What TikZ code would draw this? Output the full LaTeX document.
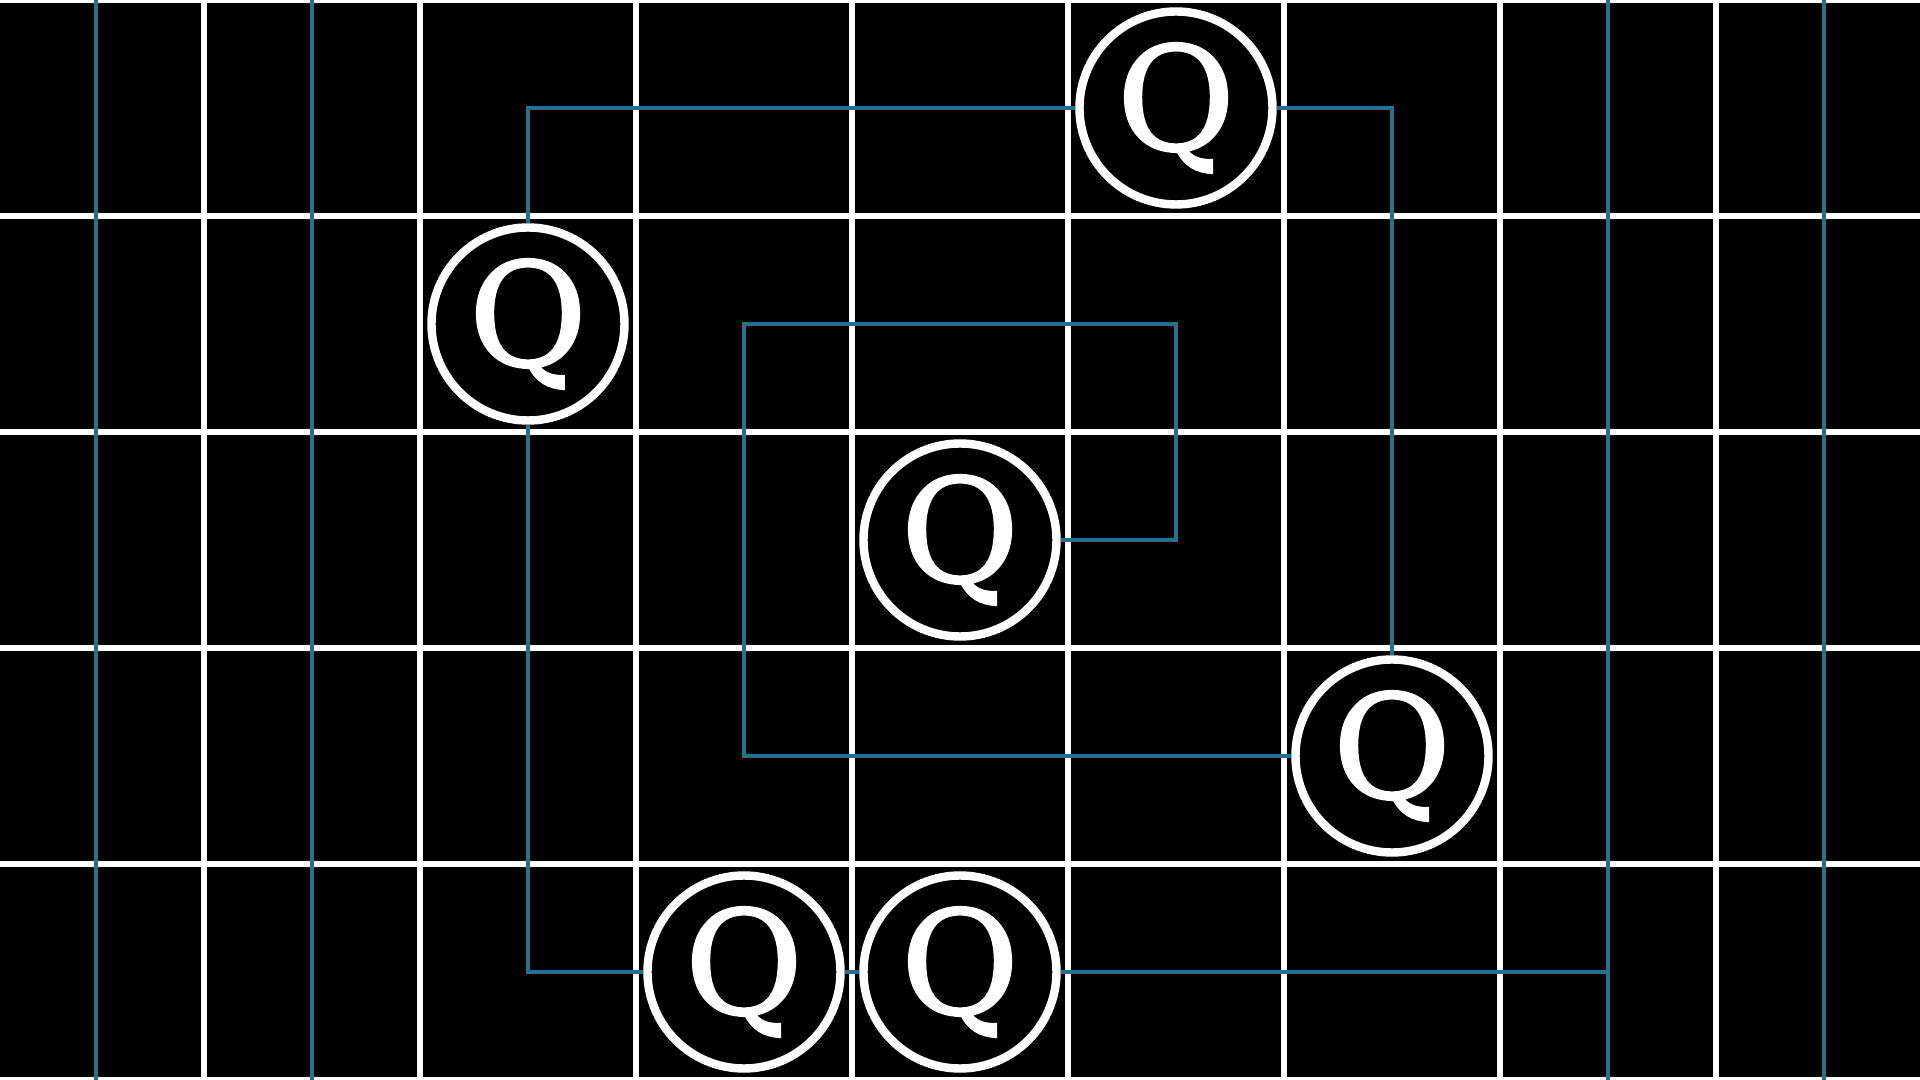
\documentclass[tikz,border=0pt]{standalone}
\usepackage{fontspec}
\setmainfont{DejaVu Serif}
\newfontfamily\qfont[FakeBold=1.5]{DejaVu Serif}
\definecolor{wire}{RGB}{42,110,142}
\begin{document}
\begin{tikzpicture}[x=2.16cm,y=2.16cm,
  gridline/.style={white,line width=1.5pt},
  wireline/.style={wire,line width=1.2pt},
  qnode/.style={circle,draw=white,fill=black,line width=2.4pt,minimum size=1.93cm,
    inner sep=0pt,text=white,font=\qfont\fontsize{41}{41}\selectfont}]
\useasboundingbox (-4.44444,-2.5) rectangle (4.44444,2.5);
\clip (-4.44444,-2.5) rectangle (4.44444,2.5);
\fill[black] (-4.6,-2.6) rectangle (4.6,2.6);
\foreach \x in {-3.5,-2.5,...,3.5} \draw[gridline] (\x,-2.6) -- (\x,2.6);
\foreach \y in {-2.5,-1.5,...,2.5} \draw[gridline] (-4.6,\y) -- (4.6,\y);
\foreach \x in {-4,-3,3,4} {
  \coordinate (top\x) at (\x,2.6);
  \coordinate (bot\x) at (\x,-2.6);
  \draw[wireline] (bot\x) -- (top\x);
}
\node[qnode] (A) at (1,2) {Q};
\node[qnode] (B) at (-2,1) {Q};
\node[qnode] (C) at (0,0) {Q};
\node[qnode] (D) at (2,-1) {Q};
\node[qnode] (E) at (-1,-2) {Q};
\node[qnode] (F) at (0,-2) {Q};
\coordinate (C1) at (1,1);
\coordinate (C2) at (-1,-1);
\coordinate (J) at (3,-2);
\draw[wireline] (B.north) |- (A.west);
\draw[wireline] (A.east) -| (D.north);
\draw[wireline] (C.east) -| (C1) -| (C2) -- (D.west);
\draw[wireline] (B.south) |- (E.west);
\draw[wireline] (E.east) -- (F.west);
\draw[wireline] (F.east) -- (J);
\end{tikzpicture}
\end{document}
